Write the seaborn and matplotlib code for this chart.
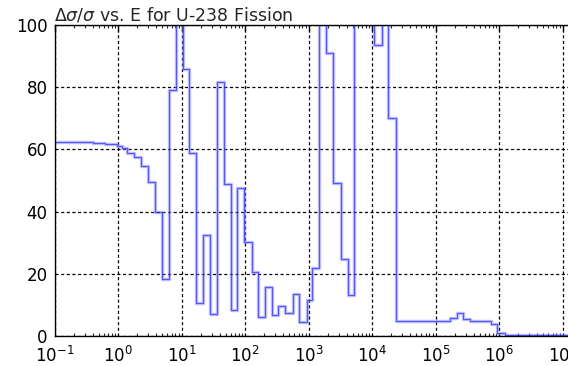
import matplotlib
matplotlib.use("Agg")
import matplotlib.pyplot as plt
import seaborn as sns
import pandas as pd
import numpy as np
from matplotlib.ticker import LogLocator

# Group lower energy boundaries (eV) and relative uncertainty (%)
energy_edges = [0.1, 0.404, 0.624, 0.964, 1.156, 1.40, 1.79, 2.28, 2.94, 3.87,
                4.93, 6.29, 8.11, 10.4, 13.3, 16.9, 21.6, 28.1, 35.8, 46.7,
                59.6, 75.7, 97.0, 128, 162, 207, 269, 334, 426, 576,
                717, 950, 1156, 1479, 1888, 2460, 3216, 4142, 5207, 10750,
                14220, 18070, 23880, 169000, 216000, 274000, 349000, 740000, 920000, 1.24e6,
                2.0e7]
rel_unc = [62.5, 62.2, 61.8, 61.2, 60.3, 59.0, 57.5, 54.7, 49.6, 40.0,
           18.2, 79.0, 150.0, 86.0, 58.7, 10.7, 32.5, 7.0, 81.6, 48.8,
           8.4, 47.5, 30.3, 20.5, 6.2, 15.6, 6.8, 9.6, 7.3, 13.4,
           4.6, 11.6, 21.8, 150.0, 91.0, 49.1, 24.7, 13.2, 150.0, 93.6,
           150.0, 70.0, 4.9, 5.9, 7.3, 5.4, 4.9, 3.9, 0.9, 0.4]

df = pd.DataFrame({"E": energy_edges, "unc": rel_unc + [rel_unc[-1]]})

sns.set_style("white")
plt.rcParams['font.family'] = ['DejaVu Sans']

fig = plt.figure(figsize=(5.68, 3.66), dpi=100)
W, H = 568, 366
left_px, right_px, top_px, bot_px = 54.5, 571, 25, 336
ax = fig.add_axes([left_px / W, 1 - bot_px / H, (right_px - left_px) / W, (bot_px - top_px) / H])

sns.lineplot(data=df, x="E", y="unc", drawstyle="steps-post", estimator=None, sort=False,
             color="#7f7fff", linewidth=2.4, alpha=0.55, ax=ax)
sns.lineplot(data=df, x="E", y="unc", drawstyle="steps-post", estimator=None, sort=False,
             color="#0000ff", linewidth=0.7, alpha=0.55, ax=ax)

ax.set_xscale("log")
decade = 63.5
xmax = 10 ** ((right_px - left_px) / decade - 1)
ax.set_xlim(0.1, xmax)
ax.set_ylim(0, 100)
ax.set_xlabel("")
ax.set_ylabel("")
ax.set_yticks([0, 20, 40, 60, 80, 100])
ax.xaxis.set_major_locator(LogLocator(base=10, numticks=20))
ax.xaxis.set_minor_locator(LogLocator(base=10, subs=np.arange(2, 10), numticks=20))

ax.grid(True, which="major", color="black", linestyle=(0, (2.5, 2)), linewidth=0.9)
ax.tick_params(axis="both", which="major", direction="in", length=4, width=1,
               top=True, right=False, labelsize=12, colors="black")
ax.tick_params(axis="x", which="minor", direction="in", length=2, width=0.8, top=True, bottom=True)
ax.tick_params(axis="x", which="major", pad=7)
ax.tick_params(axis="y", which="major", pad=5)
for s in ["left", "top", "bottom"]:
    ax.spines[s].set_color("black")
    ax.spines[s].set_linewidth(1)
ax.spines["right"].set_visible(False)

ax.set_title(r"$\Delta\sigma/\sigma$ vs. E for U-238 Fission", loc="left", fontsize=12.5, pad=3)

fig.savefig("out.png", dpi=100)
